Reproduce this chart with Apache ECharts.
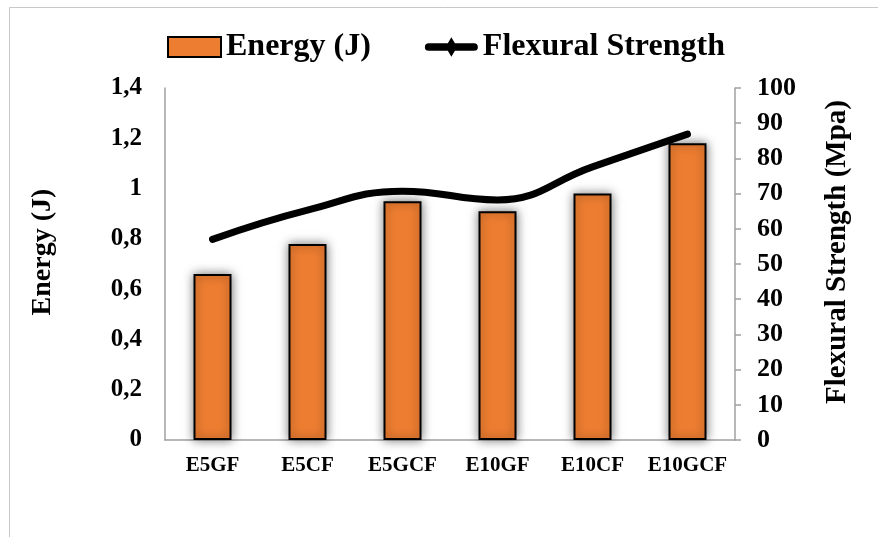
<!DOCTYPE html>
<html>
<head>
<meta charset="utf-8">
<script src="https://cdn.jsdelivr.net/npm/echarts@6/dist/echarts.min.js"></script>
<style>
  html, body { margin: 0; padding: 0; background: #fff; }
  #chart { width: 878px; height: 537px; }
</style>
</head>
<body>
<div id="chart"></div>
<script>
const categories = ['E5GF', 'E5CF', 'E5GCF', 'E10GF', 'E10CF', 'E10GCF'];
const energy = [0.66, 0.78, 0.95, 0.91, 0.98, 1.18];
const flexural = [57, 65.3, 70.7, 68.2, 77.6, 86.9];
const energyTicks = { min: 0, max: 1.4, interval: 0.2 };
const flexTicks = { min: 0, max: 100, interval: 10 };

const FONT = '"Liberation Serif", "Times New Roman", serif';
const AXIS_GRAY = '#a0a0a0';

const chart = echarts.init(document.getElementById('chart'));
chart.setOption({
  backgroundColor: '#ffffff',
  animation: false,
  graphic: [{
    type: 'rect',
    shape: { x: 9.5, y: 7.5, width: 900, height: 600 },
    style: { fill: 'none', stroke: '#c8c8c8', lineWidth: 1 },
    silent: true,
    z: -10
  }],
  legend: {
    left: 167,
    top: 31,
    padding: 0,
    itemGap: 54,
    itemWidth: 53,
    itemHeight: 20,
    textStyle: { fontFamily: FONT, fontSize: 32, fontWeight: 'bold', color: '#000' },
    data: [
      { name: 'Energy (J)', icon: 'rect', itemStyle: { shadowBlur: 0 } },
      { name: 'Flexural Strength',
        icon: 'path://M4,6 L51,6 A4,4 0 0 1 51,14 L4,14 A4,4 0 0 1 4,6 Z M27.5,0 L33.5,10 L27.5,20 L21.5,10 Z' }
    ]
  },
  grid: { left: 165, right: 143, top: 88, bottom: 97, containLabel: false },
  xAxis: {
    type: 'category',
    data: categories,
    boundaryGap: true,
    axisLine: { show: true, lineStyle: { color: AXIS_GRAY, width: 1.5 } },
    axisTick: { show: false },
    axisLabel: { interval: 0, fontFamily: FONT, fontSize: 21, fontWeight: 'bold', color: '#000', margin: 15 }
  },
  yAxis: [
    {
      type: 'value',
      min: energyTicks.min, max: energyTicks.max, interval: energyTicks.interval,
      name: 'Energy (J)',
      nameLocation: 'middle',
      nameRotate: 90,
      nameGap: 108,
      nameTextStyle: { fontFamily: FONT, fontSize: 28, fontWeight: 'bold', color: '#000', padding: [0, 0, 0, 24] },
      axisLine: { show: true, lineStyle: { color: AXIS_GRAY, width: 1.5 } },
      axisTick: { show: false },
      splitLine: { show: false },
      axisLabel: {
        fontFamily: FONT, fontSize: 25, fontWeight: 'bold', color: '#000', margin: 23,
        formatter: v => String(Number(v.toFixed(1))).replace('.', ',')
      }
    },
    {
      type: 'value',
      position: 'right',
      min: flexTicks.min, max: flexTicks.max, interval: flexTicks.interval,
      name: 'Flexural Strength (Mpa)',
      nameLocation: 'middle',
      nameRotate: 90,
      nameGap: 88,
      nameTextStyle: { fontFamily: FONT, fontSize: 29, fontWeight: 'bold', color: '#000', padding: [0, 0, 0, 24] },
      axisLine: { show: true, lineStyle: { color: AXIS_GRAY, width: 1.5 } },
      axisTick: { show: true, inside: false, length: 6, lineStyle: { color: AXIS_GRAY, width: 1.5 } },
      splitLine: { show: false },
      axisLabel: { fontFamily: FONT, fontSize: 26, fontWeight: 'bold', color: '#000', margin: 22 }
    }
  ],
  series: [
    {
      name: 'Energy (J)',
      type: 'bar',
      yAxisIndex: 0,
      data: energy,
      barWidth: 38,
      itemStyle: {
        color: '#ED7D31',
        borderColor: '#000',
        borderWidth: 2,
        shadowBlur: 10,
        shadowColor: 'rgba(0,0,0,0.5)'
      },
      z: 2
    },
    {
      name: 'Flexural Strength',
      type: 'line',
      yAxisIndex: 1,
      data: flexural,
      smooth: 0.45,
      showSymbol: false,
      symbol: 'none',
      color: '#000',
      lineStyle: { color: '#000', width: 7, cap: 'round', join: 'round' },
      z: 3
    }
  ]
});
</script>
</body>
</html>
